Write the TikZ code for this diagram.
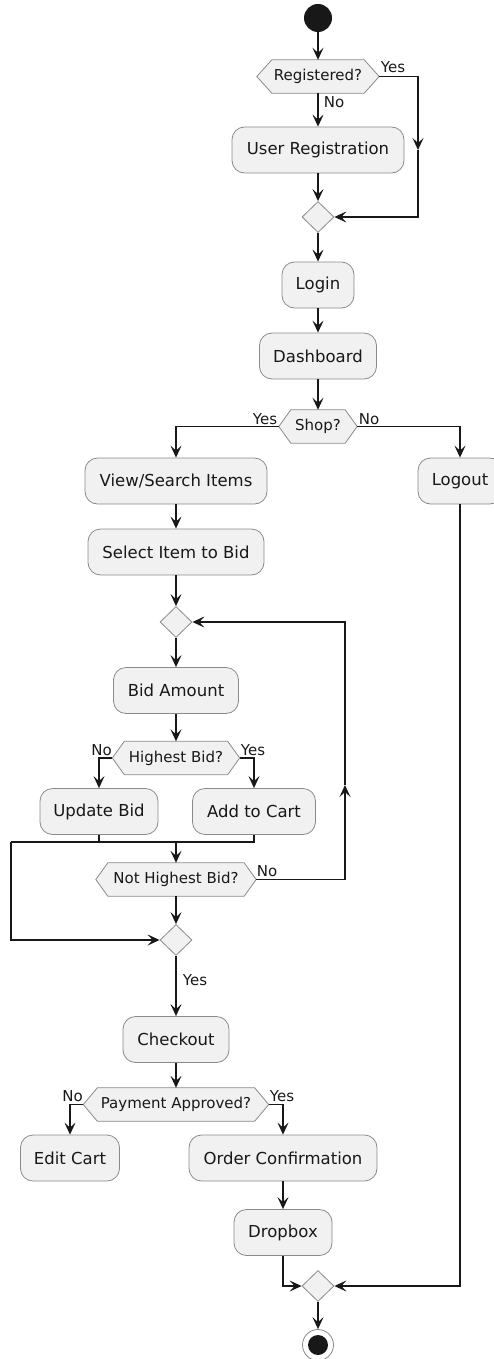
\documentclass[tikz,border=0pt]{standalone}
\usepackage{fontspec}
\setmainfont{DejaVu Sans}
\usetikzlibrary{arrows.meta,shapes.geometric,backgrounds}
\definecolor{fillc}{HTML}{F1F1F1}
\definecolor{linec}{HTML}{181818}
\definecolor{borderc}{HTML}{8A8A8A}
\tikzset{
 actbox/.style={draw=borderc, line width=0.8pt, fill=fillc, rounded corners=12.5pt, minimum height=46pt, inner sep=0pt, font=\fontsize{16.5}{18}\selectfont, text=linec},
 decnode/.style={inner sep=0pt, minimum height=33pt, font=\fontsize{15}{17}\selectfont, text=linec},
 hexline/.style={draw=borderc, line width=0.8pt, fill=fillc},
 mergebox/.style={diamond, draw=borderc, line width=0.8pt, fill=fillc, inner sep=0pt, minimum width=32pt, minimum height=31pt},
 arrowline/.style={draw=linec, line width=1.4pt, -{Stealth[length=12pt,width=11pt,inset=5pt]}},
 wire/.style={draw=linec, line width=1.4pt},
 lbl/.style={inner sep=0pt, font=\fontsize{15}{17}\selectfont, text=linec},
}
\newcommand\hexdec[6]{%
 \node[decnode, minimum width=#4] (#1) at (#2,#3) {#5};
 \begin{scope}[on background layer]
 \path[hexline] ([xshift=#6]#1.north west) -- ([xshift=-#6]#1.north east) -- (#1.east) -- ([xshift=-#6]#1.south east) -- ([xshift=#6]#1.south west) -- (#1.west) -- cycle;
 \end{scope}}
\begin{document}
\begin{tikzpicture}[x=1pt,y=-1pt]
\useasboundingbox (0,0) rectangle (494,1359);
% start
\node[circle, fill=linec, minimum size=28pt, inner sep=0pt] (start) at (318,18) {};
\hexdec{reg}{318}{76.5}{122}{Registered?}{15pt}
\node[actbox, minimum width=172pt] (ureg) at (318,150) {User Registration};
\node[mergebox] (m1) at (318,217) {};
\node[actbox, minimum width=72pt] (login) at (318,285) {Login};
\node[actbox, minimum width=117pt] (dash) at (318,356) {Dashboard};
\hexdec{shop}{318}{426.5}{78}{Shop?}{12pt}
\node[actbox, minimum width=182pt] (view) at (176,481) {View/Search Items};
\node[actbox, minimum width=84pt] (logout) at (460,481) {Logout};
\node[actbox, minimum width=176pt] (select) at (176,552) {Select Item to Bid};
\node[mergebox] (loop) at (176,622) {};
\node[actbox, minimum width=125pt] (bid) at (176,690.5) {Bid Amount};
\hexdec{high}{176}{758}{127}{Highest Bid?}{12pt}
\node[actbox, minimum width=118pt] (upd) at (99,811.5) {Update Bid};
\node[actbox, minimum width=123pt] (add) at (254,811.5) {Add to Cart};
\hexdec{nothigh}{176}{879.5}{160}{Not Highest Bid?}{12pt}
\node[mergebox] (m2) at (176,940) {};
\node[actbox, minimum width=106pt] (checkout) at (176,1039.5) {Checkout};
\hexdec{pay}{176}{1104.5}{185}{Payment Approved?}{14pt}
\node[actbox, minimum width=99pt] (edit) at (70,1158) {Edit Cart};
\node[actbox, minimum width=188pt] (order) at (283,1158) {Order Confirmation};
\node[actbox, minimum width=98pt] (drop) at (283,1232.5) {Dropbox};
\node[mergebox] (m3) at (318,1286) {};
\node[circle, draw=borderc, fill=white, line width=0.8pt, minimum size=31pt, inner sep=0pt] (stop) at (318,1345) {};
\node[circle, fill=linec, minimum size=20pt, inner sep=0pt] (stopin) at (318,1345) {};
% coordinates
\coordinate (ya) at (418,150);
\coordinate (jl) at (11,842);
\coordinate (jc) at (176,842);
\coordinate (lp) at (345,785);
% connectors
\path[arrowline] (start) -- (reg.north);
\path[arrowline] (reg.south) -- (ureg.north);
\path[arrowline] (reg.east) -| (ya);
\path[arrowline] (ya) |- (m1.east);
\path[arrowline] (ureg.south) -- (m1.north);
\path[arrowline] (m1.south) -- (login.north);
\path[arrowline] (login.south) -- (dash.north);
\path[arrowline] (dash.south) -- (shop.north);
\path[arrowline] (shop.west) -| (view.north);
\path[arrowline] (shop.east) -| (logout.north);
\path[arrowline] (view.south) -- (select.north);
\path[arrowline] (select.south) -- (loop.north);
\path[arrowline] (loop.south) -- (bid.north);
\path[arrowline] (bid.south) -- (high.north);
\path[arrowline] (high.west) -| (upd.north);
\path[arrowline] (high.east) -| (add.north);
\path[wire] (upd.south) |- (jl);
\path[wire] (add.south) |- (jl);
\path[arrowline] (jc) -- (nothigh.north);
\path[arrowline] (jl) |- (m2.west);
\path[arrowline] (nothigh.east) -| (lp);
\path[arrowline] (lp) |- (loop.east);
\path[arrowline] (nothigh.south) -- (m2.north);
\path[arrowline] (m2.south) -- (checkout.north);
\path[arrowline] (checkout.south) -- (pay.north);
\path[arrowline] (pay.west) -| (edit.north);
\path[arrowline] (pay.east) -| (order.north);
\path[arrowline] (order.south) -- (drop.north);
\path[arrowline] (drop.south) |- (m3.west);
\path[arrowline] (logout.south) |- (m3.east);
\path[arrowline] (m3.south) -- (stop.north);
% labels
\node[lbl] (l1) at (393,67) {Yes};
\node[lbl] (l2) at (334,102) {No};
\node[lbl] (l3) at (265,419) {Yes};
\node[lbl] (l4) at (369,419) {No};
\node[lbl] (l5) at (101.5,750) {No};
\node[lbl] (l6) at (253,750) {Yes};
\node[lbl] (l7) at (267,871) {No};
\node[lbl] (l8) at (195,980) {Yes};
\node[lbl] (l9) at (72.5,1096) {No};
\node[lbl] (l10) at (282,1096) {Yes};
\end{tikzpicture}
\end{document}
